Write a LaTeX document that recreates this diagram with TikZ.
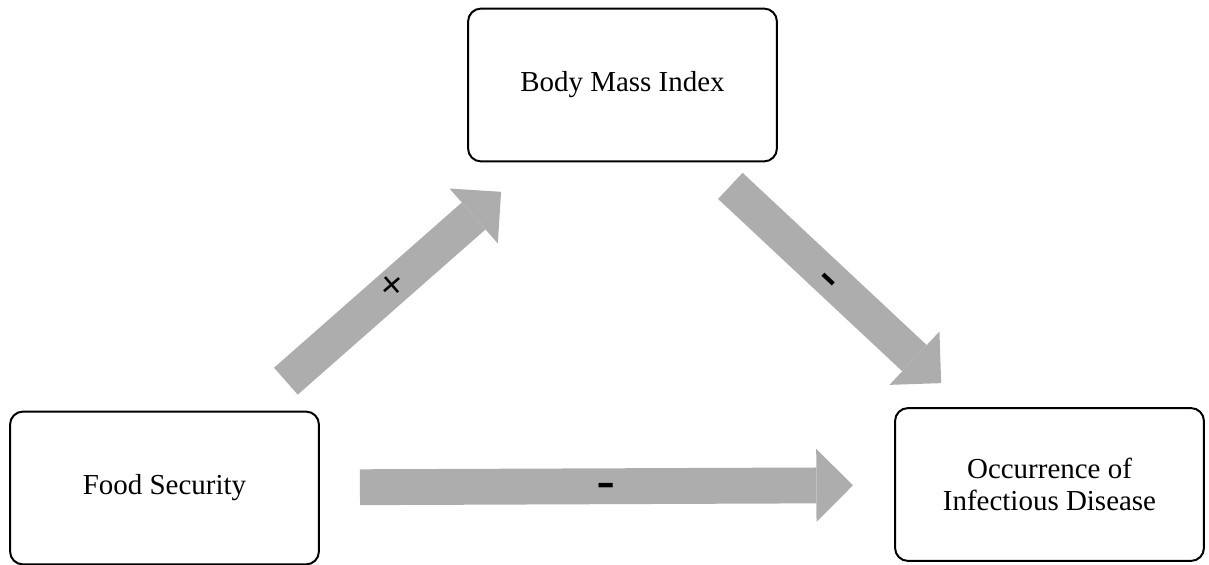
\documentclass[tikz,border=0pt]{standalone}
\usepackage{fontspec}
\setmainfont{Liberation Serif}
\newfontfamily\signfont{DejaVu Sans}
\usepackage{tikz}
\usetikzlibrary{arrows.meta}
\definecolor{arrowgray}{RGB}{173,173,173}

\begin{document}
\begin{tikzpicture}[x=0.025cm,y=-0.025cm,
        box/.style={draw, line width=1.4pt, rounded corners=9.2pt, minimum width=7.72cm, minimum height=3.82cm, align=center, font=\fontsize{20.6}{22.8}\selectfont},
        bigarrow/.style={draw=arrowgray, line width=25.5pt, -{Triangle[length=26pt,width=52pt,line width=0pt]}},
        plussign/.style={inner sep=0pt, font=\signfont\fontsize{22.8}{22.8}\selectfont},
        minussign/.style={inner sep=0pt, font=\signfont\bfseries\fontsize{22}{22}\selectfont}]
    \useasboundingbox (0,0) rectangle (1209,565);

    \node [box] (bmi)  at (622.5,85)    {Body Mass Index};
    \node [box] (food) at (164.5,488)   {Food Security};
    \node [box] (occ)  at (1049.5,484.5) {Occurrence of\\Infectious Disease};

    \draw [bigarrow, shorten <=115pt, shorten >=115pt] (food.center) -- (bmi.center);
    \draw [bigarrow, shorten <=105pt, shorten >=105.5pt] (bmi.center) -- (occ.center);
    \draw [bigarrow, shorten <=139pt, shorten >=139.8pt] (food.center) -- (occ.center);

    \node [plussign, rotate=41]   (plus)      at (392,285.5) {+};
    \node [minussign, rotate=-43] (minusdown) at (826,282)   {\scalebox{1.5}[1]{-}};
    \node [minussign]             (minuslow)  at (606.5,489) {\scalebox{1.5}[1]{-}};
\end{tikzpicture}
\end{document}
